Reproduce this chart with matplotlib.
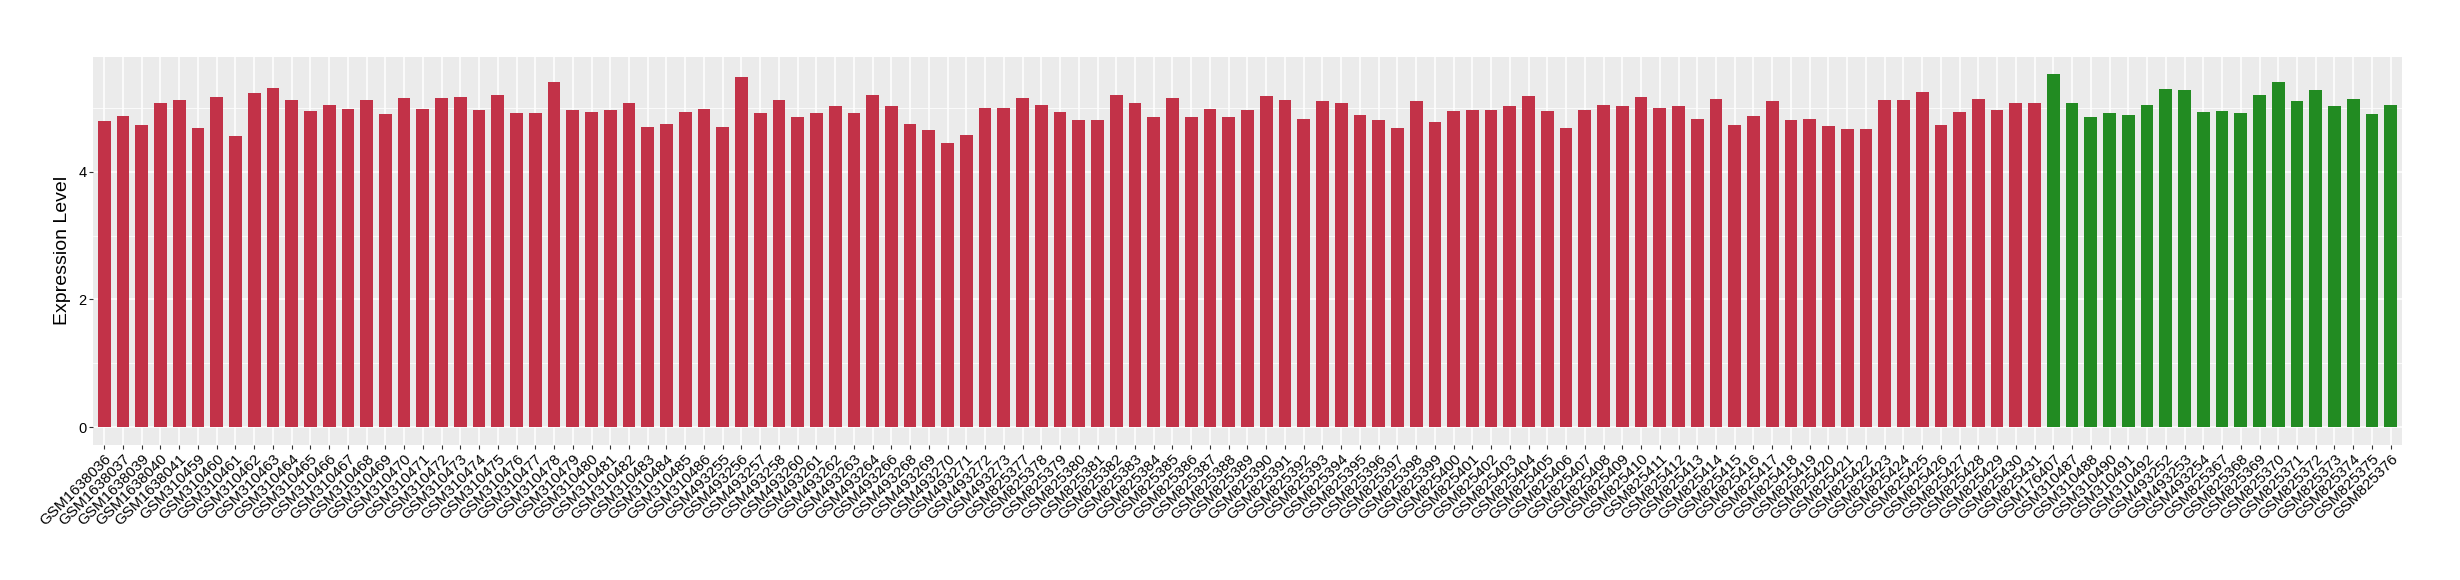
import numpy as np
import matplotlib
matplotlib.use("Agg")
import matplotlib.pyplot as plt

plt.rcParams['font.family'] = ['Liberation Sans', 'DejaVu Sans']

# sample names, red group first, then green group
red_samples = (
    ["GSM1638036", "GSM1638037", "GSM1638039", "GSM1638040", "GSM1638041"]
    + ["GSM%d" % n for n in range(310459, 310487)]
    + ["GSM493255", "GSM493256", "GSM493257", "GSM493258", "GSM493260",
       "GSM493261", "GSM493262", "GSM493263", "GSM493264", "GSM493266",
       "GSM493268", "GSM493269", "GSM493270", "GSM493271", "GSM493272",
       "GSM493273"]
    + ["GSM%d" % n for n in range(825377, 825432)]
)
green_samples = (
    ["GSM176407", "GSM310487", "GSM310488", "GSM310490", "GSM310491",
     "GSM310492", "GSM493252", "GSM493253", "GSM493254"]
    + ["GSM%d" % n for n in range(825367, 825377)]
)

red_values = [
    4.79, 4.87, 4.73, 5.07, 5.12, 4.68, 5.17, 4.56, 5.23, 5.31,
    5.12, 4.95, 5.04, 4.98, 5.12, 4.90, 5.15, 4.98, 5.15, 5.17,
    4.97, 5.20, 4.92, 4.92, 5.40, 4.97, 4.93, 4.97, 5.07, 4.70,
    4.75, 4.93, 4.98, 4.70, 5.48, 4.92, 5.12, 4.85, 4.92, 5.02,
    4.92, 5.20, 5.02, 4.75, 4.65, 4.45, 4.57, 5.00, 5.00, 5.15,
    5.05, 4.93, 4.80, 4.80, 5.20, 5.08, 4.85, 5.15, 4.85, 4.98,
    4.85, 4.97, 5.18, 5.12, 4.83, 5.10, 5.08, 4.88, 4.80, 4.68,
    5.10, 4.77, 4.95, 4.97, 4.97, 5.03, 5.18, 4.95, 4.68, 4.97,
    5.05, 5.02, 5.17, 5.00, 5.02, 4.83, 5.13, 4.73, 4.87, 5.10,
    4.80, 4.82, 4.72, 4.67, 4.67, 5.12, 5.12, 5.25, 4.73, 4.93,
    5.13, 4.97, 5.08, 5.08,
]
green_values = [
    5.52, 5.08, 4.85, 4.92, 4.88, 5.05, 5.30, 5.27, 4.93, 4.95,
    4.92, 5.20, 5.40, 5.10, 5.27, 5.03, 5.13, 4.90, 5.05,
]

samples = red_samples + green_samples
values = red_values + green_values
colors = ["#C23248"] * len(red_values) + ["#228B22"] * len(green_values)

fig = plt.figure(figsize=(24.6, 5.8), dpi=100)
ax = fig.add_axes([0.0378, 0.233, 0.9386, 0.669])
ax.set_facecolor("#EBEBEB")

x = np.arange(len(samples))
ax.bar(x, values, width=0.68, color=colors, zorder=3)

ymax = max(values) * 1.05
ax.set_ylim(-0.05 * max(values), ymax)
ax.set_xlim(-0.6, len(samples) - 0.4)

ax.set_yticks([0, 2, 4])
ax.set_yticks([1, 3, 5], minor=True)
ax.set_xticks(x)
ax.set_xticklabels(samples, rotation=45, ha="right", rotation_mode="anchor",
                   fontsize=11)
ax.grid(True, which="major", color="white", linewidth=1.1, zorder=0)
ax.grid(True, which="minor", axis="y", color="white", linewidth=0.55, zorder=0)
ax.tick_params(axis="both", which="major", length=2.75, width=0.8,
               color="#333333", pad=2, labelcolor="black")
ax.tick_params(axis="y", labelsize=10.5)
ax.tick_params(axis="y", which="minor", length=0)
for s in ax.spines.values():
    s.set_visible(False)

ax.set_ylabel("Expression Level", fontsize=14, labelpad=5)

fig.savefig("out.png", dpi=100)
